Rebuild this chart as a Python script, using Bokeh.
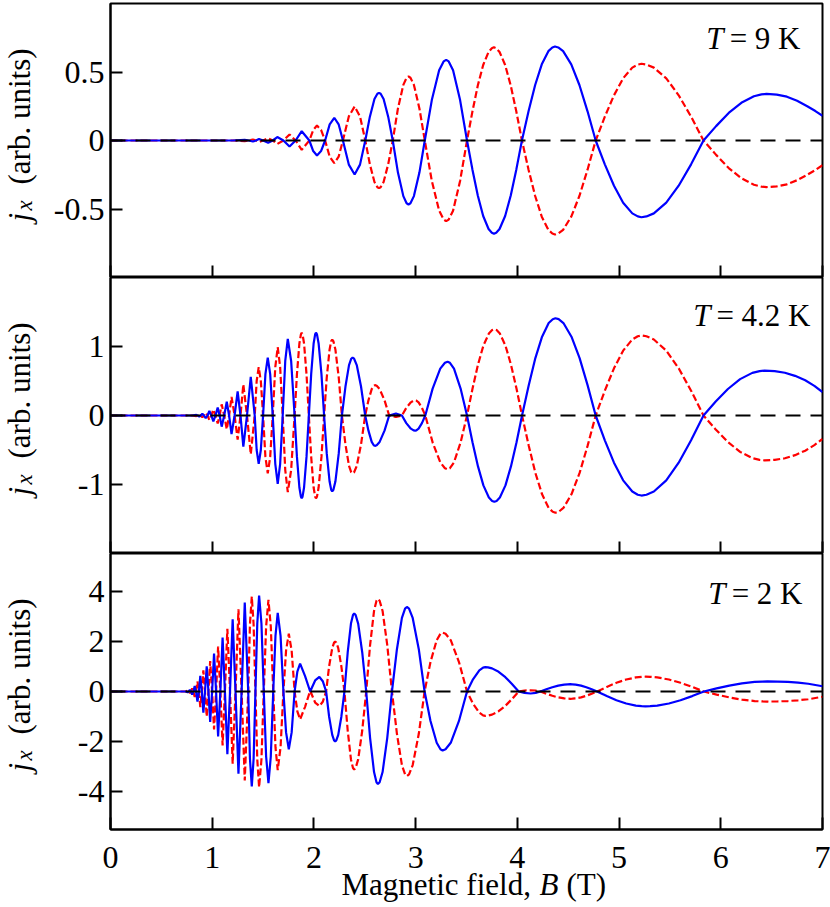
import math
from bokeh.plotting import figure
from bokeh.models import Label, FixedTicker, Range1d, Span, GridBox
from bokeh.layouts import column
from bokeh.embed import file_html
from bokeh.resources import INLINE

# ---------------- data ----------------
x_ticks = [0, 1, 2, 3, 4, 5, 6, 7]

# Panel 1: T = 9 K   (magnetic field B in T, current j_x in arb. units)
B1 = [0, 1.20, 1.32, 1.36, 1.40, 1.43, 1.46, 1.50, 1.55, 1.595,
      1.64, 1.70, 1.76, 1.82, 1.88, 1.955, 1.993, 2.03, 2.07, 2.11,
      2.155, 2.20, 2.243, 2.285, 2.343, 2.40, 2.453, 2.505, 2.55, 2.595,
      2.624, 2.64, 2.656, 2.685, 2.73, 2.775, 2.826, 2.879, 2.911, 2.93,
      2.949, 2.983, 3.037, 3.09, 3.159, 3.231, 3.275, 3.30, 3.325, 3.368,
      3.437, 3.505, 3.558, 3.611, 3.664, 3.717, 3.749, 3.77, 3.792, 3.825,
      3.88, 3.935, 3.99, 4.045, 4.11, 4.175, 4.24, 4.305, 4.344, 4.37,
      4.402, 4.45, 4.53, 4.61, 4.69, 4.77, 4.86, 4.95, 5.04, 5.13,
      5.184, 5.22, 5.269, 5.342, 5.464, 5.586, 5.708, 5.83, 5.954, 6.078,
      6.202, 6.326, 6.40, 6.45, 6.55, 6.65, 6.75, 6.85, 6.93, 7.00]
blue1 = [0, 0, 0.004, 0, -0.007, 0, 0.011, 0, -0.016, 0,
         0.025, 0, -0.044, 0, 0.068, 0, -0.077, -0.109, -0.077, 0,
         0.118, 0.166, 0.118, 0, -0.176, -0.248, -0.176, 0, 0.174, 0.303,
         0.341, 0.348, 0.341, 0.303, 0.174, 0, -0.234, -0.406, -0.458, -0.467,
         -0.458, -0.406, -0.234, 0, 0.295, 0.512, 0.577, 0.589, 0.577, 0.512,
         0.295, 0, -0.211, -0.401, -0.551, -0.646, -0.673, -0.68, -0.673, -0.646,
         -0.551, -0.401, -0.211, 0, 0.213, 0.405, 0.556, 0.652, 0.679, 0.686,
         0.679, 0.652, 0.556, 0.405, 0.213, 0, -0.174, -0.330, -0.454, -0.532,
         -0.554, -0.56, -0.554, -0.532, -0.454, -0.330, -0.174, 0, 0.105, 0.201,
         0.275, 0.323, 0.337, 0.34, 0.335, 0.32, 0.29, 0.25, 0.215, 0.18]
red1 = [0, 0, -0.004, 0, 0.007, 0, -0.011, 0, 0.016, 0,
        -0.025, 0, 0.044, 0, -0.068, 0, 0.077, 0.109, 0.077, 0,
        -0.118, -0.166, -0.118, 0, 0.176, 0.248, 0.176, 0, -0.174, -0.303,
        -0.341, -0.348, -0.341, -0.303, -0.174, 0, 0.234, 0.406, 0.458, 0.467,
        0.458, 0.406, 0.234, 0, -0.295, -0.512, -0.577, -0.589, -0.577, -0.512,
        -0.295, 0, 0.211, 0.401, 0.551, 0.646, 0.673, 0.68, 0.673, 0.646,
        0.551, 0.401, 0.211, 0, -0.213, -0.405, -0.556, -0.652, -0.679, -0.686,
        -0.679, -0.652, -0.556, -0.405, -0.213, 0, 0.174, 0.330, 0.454, 0.532,
        0.554, 0.56, 0.554, 0.532, 0.454, 0.330, 0.174, 0, -0.105, -0.201,
        -0.275, -0.323, -0.337, -0.34, -0.335, -0.32, -0.29, -0.25, -0.215, -0.18]

# Panel 2: T = 4.2 K
B2 = [0, 0.80, 0.844, 0.858, 0.873, 0.888, 0.903, 0.919, 0.936, 0.954,
      0.972, 0.991, 1.011, 1.032, 1.054, 1.073, 1.093, 1.118, 1.143, 1.166,
      1.19, 1.22, 1.25, 1.278, 1.306, 1.342, 1.379, 1.418, 1.437, 1.457,
      1.478, 1.50, 1.523, 1.546, 1.57, 1.595, 1.62, 1.644, 1.668, 1.693,
      1.718, 1.743, 1.776, 1.81, 1.833, 1.857, 1.872, 1.88, 1.888, 1.903,
      1.927, 1.95, 1.973, 1.997, 2.012, 2.02, 2.03, 2.046, 2.074, 2.10,
      2.126, 2.154, 2.17, 2.18, 2.191, 2.211, 2.244, 2.275, 2.31, 2.345,
      2.367, 2.38, 2.395, 2.421, 2.463, 2.504, 2.536, 2.568, 2.588, 2.60,
      2.617, 2.646, 2.694, 2.74, 2.806, 2.865, 2.908, 2.953, 2.98, 2.996,
      3.007, 3.029, 3.062, 3.095, 3.167, 3.242, 3.288, 3.314, 3.337, 3.377,
      3.442, 3.505, 3.559, 3.613, 3.666, 3.72, 3.752, 3.774, 3.796, 3.828,
      3.883, 3.937, 3.992, 4.046, 4.112, 4.177, 4.243, 4.308, 4.348, 4.374,
      4.406, 4.453, 4.532, 4.612, 4.691, 4.77, 4.86, 4.95, 5.04, 5.13,
      5.184, 5.22, 5.269, 5.342, 5.464, 5.586, 5.708, 5.83, 5.95, 6.07,
      6.19, 6.31, 6.382, 6.43, 6.53, 6.63, 6.73, 6.83, 6.92, 7.0]
blue2 = [0, 0, 0.008, 0, -0.015, 0, 0.025, 0, -0.04, 0,
         0.066, 0, -0.085, 0, 0.114, 0, -0.162, 0, 0.20, 0,
         -0.27, 0, 0.35, 0, -0.45, 0, 0.56, 0, -0.50, -0.70,
         -0.50, 0, 0.60, 0.84, 0.60, 0, -0.70, -0.99, -0.70, 0,
         0.79, 1.11, 0.79, 0, -0.60, -1.044, -1.176, -1.20, -1.176, -1.044,
         -0.60, 0, 0.60, 1.044, 1.176, 1.20, 1.176, 1.044, 0.60, 0,
         -0.55, -0.957, -1.078, -1.10, -1.078, -0.957, -0.55, 0, 0.42, 0.731,
         0.823, 0.84, 0.823, 0.731, 0.42, 0, -0.22, -0.383, -0.431, -0.44,
         -0.431, -0.383, -0.22, 0, 0.03, 0, -0.11, -0.191, -0.216, -0.22,
         -0.216, -0.191, -0.11, 0, 0.39, 0.679, 0.764, 0.78, 0.764, 0.679,
         0.39, 0, -0.388, -0.738, -1.013, -1.188, -1.238, -1.25, -1.238, -1.188,
         -1.013, -0.738, -0.388, 0, 0.437, 0.832, 1.142, 1.34, 1.396, 1.41,
         1.396, 1.34, 1.142, 0.832, 0.437, 0, -0.36, -0.684, -0.94, -1.102,
         -1.148, -1.16, -1.148, -1.102, -0.94, -0.684, -0.36, 0, 0.202, 0.384,
         0.527, 0.618, 0.644, 0.65, 0.643, 0.62, 0.575, 0.51, 0.43, 0.34]
red2 = [0, 0, -0.008, 0, 0.015, 0, -0.025, 0, 0.04, 0,
        -0.066, 0, 0.085, 0, -0.114, 0, 0.162, 0, -0.20, 0,
        0.27, 0, -0.35, 0, 0.45, 0, -0.56, 0, 0.50, 0.70,
        0.50, 0, -0.60, -0.84, -0.60, 0, 0.70, 0.99, 0.70, 0,
        -0.79, -1.11, -0.79, 0, 0.60, 1.044, 1.176, 1.20, 1.176, 1.044,
        0.60, 0, -0.60, -1.044, -1.176, -1.20, -1.176, -1.044, -0.60, 0,
        0.55, 0.957, 1.078, 1.10, 1.078, 0.957, 0.55, 0, -0.42, -0.731,
        -0.823, -0.84, -0.823, -0.731, -0.42, 0, 0.22, 0.383, 0.431, 0.44,
        0.431, 0.383, 0.22, 0, -0.02, 0, 0.11, 0.191, 0.216, 0.22,
        0.216, 0.191, 0.11, 0, -0.39, -0.679, -0.764, -0.78, -0.764, -0.679,
        -0.39, 0, 0.388, 0.738, 1.013, 1.188, 1.238, 1.25, 1.238, 1.188,
        1.013, 0.738, 0.388, 0, -0.437, -0.832, -1.142, -1.34, -1.396, -1.41,
        -1.396, -1.34, -1.142, -0.832, -0.437, 0, 0.36, 0.684, 0.94, 1.102,
        1.148, 1.16, 1.148, 1.102, 0.94, 0.684, 0.36, 0, -0.202, -0.384,
        -0.527, -0.618, -0.644, -0.65, -0.643, -0.62, -0.575, -0.51, -0.43, -0.34]

# Panel 3: T = 2 K
B3 = [0, 0.74, 0.758, 0.769, 0.78, 0.791, 0.803, 0.815, 0.828, 0.841,
      0.855, 0.869, 0.883, 0.898, 0.913, 0.929, 0.946, 0.963, 0.98, 0.999,
      1.018, 1.038, 1.058, 1.08, 1.102, 1.125, 1.149, 1.175, 1.201, 1.229,
      1.258, 1.289, 1.32, 1.354, 1.371, 1.389, 1.407, 1.425, 1.443, 1.461,
      1.484, 1.507, 1.53, 1.553, 1.576, 1.60, 1.622, 1.644, 1.672, 1.70,
      1.726, 1.753, 1.781, 1.81, 1.837, 1.864, 1.913, 1.963, 2.012, 2.054,
      2.087, 2.12, 2.149, 2.18, 2.198, 2.209, 2.22, 2.239, 2.27, 2.30,
      2.332, 2.364, 2.384, 2.396, 2.41, 2.435, 2.475, 2.514, 2.552, 2.591,
      2.615, 2.629, 2.646, 2.675, 2.721, 2.767, 2.816, 2.865, 2.896, 2.914,
      2.935, 2.971, 3.031, 3.088, 3.146, 3.207, 3.244, 3.265, 3.294, 3.345,
      3.426, 3.505, 3.564, 3.626, 3.663, 3.685, 3.711, 3.751, 3.816, 3.882,
      3.947, 4.013, 4.07, 4.13, 4.18, 4.226, 4.285, 4.344, 4.402, 4.461,
      4.496, 4.52, 4.541, 4.573, 4.626, 4.678, 4.731, 4.784, 4.879, 4.974,
      5.07, 5.165, 5.222, 5.26, 5.306, 5.375, 5.49, 5.604, 5.719, 5.834,
      5.959, 6.084, 6.208, 6.333, 6.408, 6.458, 6.56, 6.66, 6.76, 6.86,
      6.93, 7.0]
blue3 = [0, 0, -0.03, 0, 0.06, 0, -0.12, 0, 0.22, 0,
         -0.40, 0, 0.62, 0, -0.84, 0, 1.0, 0, -1.21, 0,
         1.51, 0, -1.79, 0, 2.15, 0, -2.5, 0, 2.88, 0,
         -3.28, 0, 3.55, 0, -2.68, -3.78, -2.68, 0, 2.71, 3.82,
         2.71, 0, -2.59, -3.65, -2.59, 0, 2.22, 3.13, 2.22, 0,
         -1.63, -2.30, -1.63, 0, 0.79, 1.11, 0.61, 0.0, 0.44, 0.58,
         0.41, 0, -0.995, -1.731, -1.95, -1.99, -1.95, -1.731, -0.995, 0,
         1.555, 2.706, 3.048, 3.11, 3.048, 2.706, 1.555, 0, -1.845, -3.21,
         -3.616, -3.69, -3.616, -3.21, -1.845, 0, 1.685, 2.932, 3.303, 3.37,
         3.303, 2.932, 1.685, 0, -1.175, -2.045, -2.303, -2.35, -2.303, -2.045,
         -1.175, 0, 0.485, 0.844, 0.951, 0.97, 0.96, 0.922, 0.786, 0.572,
         0.301, 0, -0.057, -0.08, -0.057, 0, 0.09, 0.171, 0.235, 0.276,
         0.287, 0.29, 0.287, 0.276, 0.235, 0.171, 0.09, 0, -0.183, -0.348,
         -0.478, -0.561, -0.584, -0.59, -0.584, -0.561, -0.478, -0.348, -0.183, 0,
         0.124, 0.236, 0.324, 0.38, 0.396, 0.40, 0.395, 0.38, 0.35, 0.31,
         0.26, 0.21]
red3 = [0, 0, 0.03, 0, -0.06, 0, 0.12, 0, -0.22, 0,
        0.40, 0, -0.62, 0, 0.84, 0, -1.0, 0, 1.21, 0,
        -1.51, 0, 1.79, 0, -2.15, 0, 2.5, 0, -2.88, 0,
        3.28, 0, -3.55, 0, 2.68, 3.78, 2.68, 0, -2.71, -3.82,
        -2.71, 0, 2.59, 3.65, 2.59, 0, -2.22, -3.13, -2.22, 0,
        1.63, 2.30, 1.63, 0, -0.79, -1.11, -0.61, 0.03, -0.44, -0.58,
        -0.41, 0, 0.995, 1.731, 1.95, 1.99, 1.95, 1.731, 0.995, 0,
        -1.555, -2.706, -3.048, -3.11, -3.048, -2.706, -1.555, 0, 1.845, 3.21,
        3.616, 3.69, 3.616, 3.21, 1.845, 0, -1.685, -2.932, -3.303, -3.37,
        -3.303, -2.932, -1.685, 0, 1.175, 2.045, 2.303, 2.35, 2.303, 2.045,
        1.175, 0, -0.485, -0.844, -0.951, -0.97, -0.96, -0.922, -0.786, -0.572,
        -0.301, 0, 0.04, 0.05, 0.04, 0, -0.09, -0.171, -0.235, -0.276,
        -0.287, -0.29, -0.287, -0.276, -0.235, -0.171, -0.09, 0, 0.183, 0.348,
        0.478, 0.561, 0.584, 0.59, 0.584, 0.561, 0.478, 0.348, 0.183, 0,
        -0.124, -0.236, -0.324, -0.38, -0.396, -0.40, -0.395, -0.38, -0.35, -0.31,
        -0.26, -0.21]

y_ticks1 = [-0.5, 0, 0.5]
y_labels1 = ["-0.5", "0", "0.5"]
y_ticks2 = [-1, 0, 1]
y_labels2 = ["-1", "0", "1"]
y_ticks3 = [-4, -2, 0, 2, 4]
y_labels3 = ["-4", "-2", "0", "2", "4"]
temps = ["9", "4.2", "2"]

for a, b, c in [(B1, blue1, red1), (B2, blue2, red2), (B3, blue3, red3)]:
    assert len(a) == len(b) == len(c), (len(a), len(b), len(c))

# ---------------- layout / style ----------------
FONT = "Liberation Serif"
FS = "31px"
TICK_FS = "32px"
FRAME_W = 712
P_LEFT = 110
PAGE_W = 830
PAGE_H = 907
SHIFT = 9   # rendered alphabetic baseline sits this many px "below" the anchor


def base_fig(**kw):
    p = figure(output_backend="svg", toolbar_location=None, **kw)
    p.xgrid.visible = False
    p.ygrid.visible = False
    return p


def make_panel(B, blue, red, ymax, yticks, ylabels, fh, top_page, top_border, bottom_border,
               temp, temp_right, temp_base, t_right, last):
    p = base_fig(frame_width=FRAME_W, frame_height=fh,
                 x_range=Range1d(0, 7), y_range=Range1d(-ymax, ymax),
                 min_border_left=P_LEFT, min_border_right=PAGE_W - P_LEFT - FRAME_W,
                 min_border_top=top_border, min_border_bottom=bottom_border)
    p.background_fill_color = "white"
    p.border_fill_color = "white"
    p.outline_line_color = "black"
    p.outline_line_width = 2
    p.outline_line_alpha = 1.0

    def xdat(page_x):
        return (page_x - P_LEFT) / FRAME_W * 7.0

    def ydat(page_y):
        return ymax - (page_y - top_page) / fh * 2 * ymax

    p.line(B, red, line_color="#ff0000", line_width=2.2, line_dash="7 3")
    p.line(B, blue, line_color="#0000ff", line_width=2.2)
    p.add_layout(Span(location=0, dimension="width", line_color="black", line_width=1.8,
                      line_dash="15 10"))

    xa = p.xaxis[0]
    xa.ticker = FixedTicker(ticks=x_ticks)
    xa.major_tick_in = 12
    xa.major_tick_out = 0
    xa.minor_tick_line_color = None
    xa.major_tick_line_width = 2
    xa.axis_line_width = 2
    if last:
        xa.major_label_text_font = FONT
        xa.major_label_text_font_size = TICK_FS
        xa.major_label_text_color = "black"
        xa.major_label_standoff = 17
    else:
        xa.major_label_text_font_size = "0px"
        xa.major_label_text_alpha = 0
        xa.major_label_standoff = 0

    ya = p.yaxis[0]
    ya.ticker = FixedTicker(ticks=yticks)
    ya.major_label_overrides = {t: s for t, s in zip(yticks, ylabels)}
    ya.major_tick_in = 12
    ya.major_tick_out = 0
    ya.minor_tick_line_color = None
    ya.major_tick_line_width = 2
    ya.axis_line_width = 2
    ya.major_label_text_font = FONT
    ya.major_label_text_font_size = TICK_FS
    ya.major_label_text_color = "black"
    ya.major_label_standoff = 6

    # temperature annotation  "T = ... K"
    yb = ydat(temp_base - SHIFT)
    p.add_layout(Label(x=xdat(temp_right), y=yb, text="= %s K" % temp,
                       text_font=FONT, text_font_size=FS, text_align="right",
                       text_baseline="alphabetic", text_color="black"))
    p.add_layout(Label(x=xdat(t_right), y=yb, text="T",
                       text_font=FONT, text_font_style="italic", text_font_size=FS,
                       text_align="right", text_baseline="alphabetic", text_color="black"))
    return p


p1 = make_panel(B1, blue1, red1, 1.0, y_ticks1, y_labels1, 274, 3, 3, 0, temps[0],
                800, 47, 723, False)
p2 = make_panel(B2, blue2, red2, 2.0, y_ticks2, y_labels2, 276, 277, 0, 0, temps[1],
                810, 324, 710, False)
p3 = make_panel(B3, blue3, red3, 5.5, y_ticks3, y_labels3, 276, 553, 0, PAGE_H - 829, temps[2],
                802, 602, 725, True)
panels = column(p1, p2, p3, spacing=0)

# transparent overlay in page coordinates carrying the axis titles
ov = base_fig(frame_width=PAGE_W, frame_height=PAGE_H, x_range=Range1d(0, PAGE_W),
              y_range=Range1d(PAGE_H, 0), min_border=0,
              x_axis_location=None, y_axis_location=None)
ov.outline_line_color = None
ov.background_fill_color = None
ov.border_fill_color = None

YT_X = 28 - SHIFT
for top in (3, 277, 553):
    ov.add_layout(Label(x=YT_X, y=top + 181, text="(arb. units)", angle=math.pi / 2,
                        text_font=FONT, text_font_size=FS, text_align="left",
                        text_baseline="alphabetic", text_color="black"))
    ov.add_layout(Label(x=YT_X, y=top + 218, text="j", angle=math.pi / 2,
                        text_font=FONT, text_font_style="italic", text_font_size=FS,
                        text_align="left", text_baseline="alphabetic", text_color="black"))
    ov.add_layout(Label(x=YT_X + 5, y=top + 207, text="x", angle=math.pi / 2,
                        text_font=FONT, text_font_style="italic", text_font_size="23px",
                        text_align="left", text_baseline="alphabetic", text_color="black"))

XB = 893 - SHIFT
ov.add_layout(Label(x=341, y=XB, text="Magnetic field,", text_font=FONT, text_font_size=FS,
                    text_align="left", text_baseline="alphabetic", text_color="black"))
ov.add_layout(Label(x=539, y=XB, text="B", text_font=FONT, text_font_style="italic",
                    text_font_size=FS, text_align="left", text_baseline="alphabetic",
                    text_color="black"))
ov.add_layout(Label(x=566, y=XB, text="(T)", text_font=FONT, text_font_size=FS,
                    text_align="left", text_baseline="alphabetic", text_color="black"))

layout = GridBox(children=[(panels, 0, 0), (ov, 0, 0)])
open("out.html", "w").write(file_html(layout, INLINE))
